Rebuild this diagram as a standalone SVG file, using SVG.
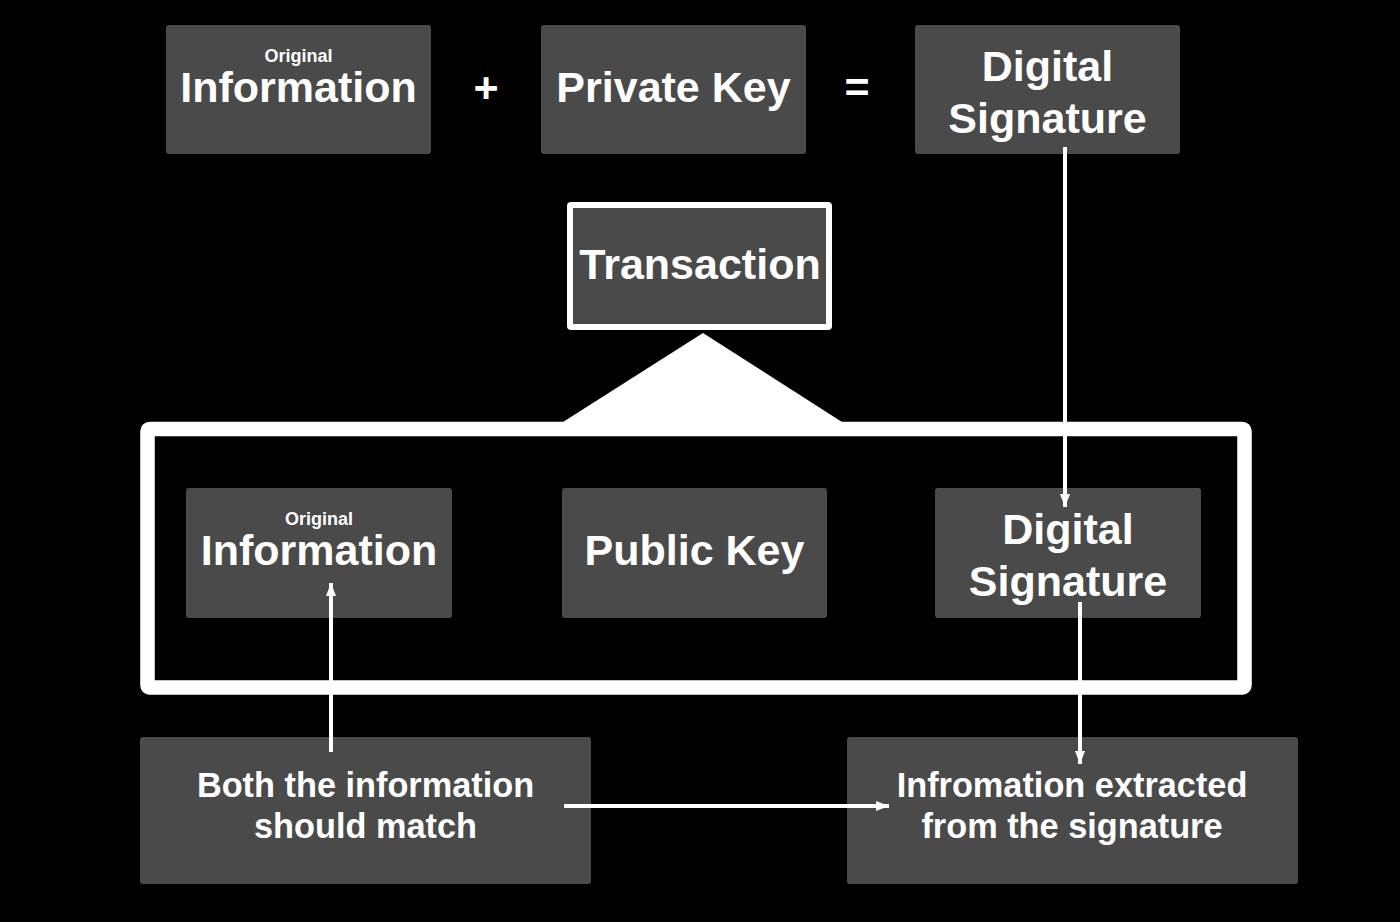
<svg xmlns="http://www.w3.org/2000/svg" width="1400" height="922" viewBox="0 0 1400 922">
<style>
.box{fill:#4a4a4a}
.t{font-family:"Liberation Sans",Arial,sans-serif;font-weight:bold;fill:#ffffff;text-anchor:middle}
.big{font-size:43px}
.sm{font-size:18px}
.mid{font-size:34.3px}
.conn{stroke:#ffffff;stroke-width:4;fill:none}
</style>
<defs>
<marker id="ah" markerUnits="userSpaceOnUse" markerWidth="13" markerHeight="12" viewBox="0 0 13 12" refX="13" refY="6" orient="auto">
<path d="M0,1 L13,6 L0,11 Z" fill="#ffffff"/>
</marker>
</defs>
<rect width="1400" height="922" fill="#000000"/>

<g id="top-information">
<rect class="box" x="166" y="25" width="265" height="129" rx="3"/>
<text class="t sm" x="298.5" y="62">Original</text>
<text class="t big" x="298.5" y="102">Information</text>
</g>
<g id="plus"><text class="t big" x="486" y="102">+</text></g>
<g id="top-private-key">
<rect class="box" x="541" y="25" width="265" height="129" rx="3"/>
<text class="t big" x="673.5" y="102">Private Key</text>
</g>
<g id="equals"><text class="t big" x="857" y="102">=</text></g>
<g id="top-digital-signature">
<rect class="box" x="915" y="25" width="265" height="129" rx="3"/>
<text class="t big" x="1047.5" y="81">Digital</text>
<text class="t big" x="1047.5" y="133">Signature</text>
</g>

<g id="transaction">
<rect x="567" y="202" width="265" height="128" rx="4" fill="#ffffff"/>
<rect class="box" x="573" y="208" width="253" height="116"/>
<text class="t big" x="700" y="279">Transaction</text>
</g>

<g id="transaction-frame">
<polygon points="703,333 563,422 842,422" fill="#ffffff"/>
<rect x="147.5" y="429" width="1097" height="258.5" rx="2" fill="none" stroke="#ffffff" stroke-width="14.5"/>
</g>

<g id="inner-information">
<rect class="box" x="186" y="488" width="266" height="130" rx="3"/>
<text class="t sm" x="319" y="525">Original</text>
<text class="t big" x="319" y="565">Information</text>
</g>
<g id="inner-public-key">
<rect class="box" x="562" y="488" width="265" height="130" rx="3"/>
<text class="t big" x="694.5" y="565">Public Key</text>
</g>
<g id="inner-digital-signature">
<rect class="box" x="935" y="488" width="266" height="130" rx="3"/>
<text class="t big" x="1068" y="544">Digital</text>
<text class="t big" x="1068" y="596">Signature</text>
</g>

<g id="both-match">
<rect class="box" x="140" y="737" width="451" height="147" rx="3"/>
<text class="t mid" x="365.5" y="797">Both the information</text>
<text class="t mid" x="365.5" y="838">should match</text>
</g>
<g id="extracted">
<rect class="box" x="847" y="737" width="451" height="147" rx="3"/>
<text class="t mid" x="1072" y="797">Infromation extracted</text>
<text class="t mid" x="1072" y="838">from the signature</text>
</g>

<g id="connectors">
<line class="conn" x1="1065" y1="147" x2="1065" y2="507" marker-end="url(#ah)"/>
<line class="conn" x1="1080" y1="602" x2="1080" y2="764" marker-end="url(#ah)"/>
<line class="conn" x1="331" y1="752" x2="331" y2="583" marker-end="url(#ah)"/>
<line class="conn" x1="564" y1="806" x2="889" y2="806" marker-end="url(#ah)"/>
</g>
</svg>
